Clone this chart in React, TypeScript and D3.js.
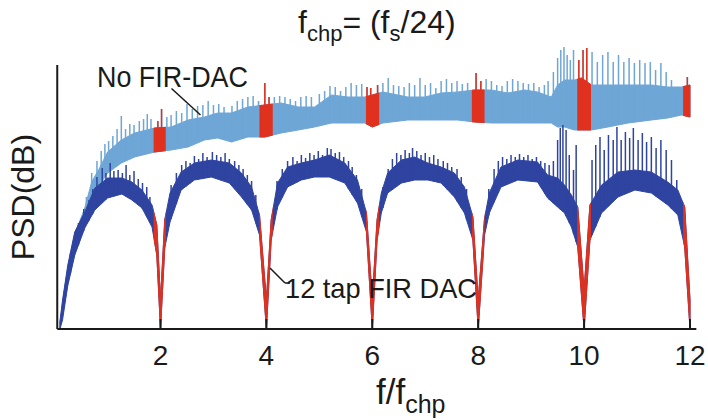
import React from "react";
import * as d3 from "d3";

// ---- data (PSD in dB vs f/fchp) ----
const FIR_F = [0.1, 0.15, 0.25, 0.38, 0.57, 0.76, 1.0, 1.27, 1.46, 1.65, 1.84, 1.93, 2.0, 2.08, 2.18, 2.39, 2.64, 2.96, 3.3, 3.53, 3.72, 3.87, 4.0, 4.09, 4.21, 4.4, 4.66, 4.91, 5.19, 5.48, 5.72, 5.89, 6.0, 6.09, 6.17, 6.29, 6.55, 6.8, 7.05, 7.3, 7.55, 7.74, 7.9, 8.0, 8.12, 8.21, 8.43, 8.75, 9.12, 9.31, 9.5, 9.63, 9.76, 9.88, 10.0, 10.11, 10.33, 10.64, 10.96, 11.27, 11.58, 11.77, 11.9, 12.0];
const FIR_LO = [-150, -145.5, -128, -113, -99.5, -90.5, -84.5, -82.5, -85.5, -89.5, -99, -113, -150, -109.5, -96.5, -80.5, -75.5, -74, -77, -84, -90.5, -103, -150, -105.5, -89, -79, -75.5, -74, -74, -77, -87, -101.5, -150, -105.5, -92, -82, -77, -75.5, -75.5, -77, -84, -92, -105.5, -150, -103, -92, -79, -75.5, -76.5, -84.5, -89, -92, -99, -109, -150, -105.5, -92, -84, -80.5, -82, -88, -93, -109, -150];
const FIR_HI = [-146.5, -135.5, -118, -101.5, -91.5, -79.5, -74.5, -74.5, -76.5, -80.5, -88, -98, -135.5, -95.5, -82, -71.5, -67, -65.5, -67, -72, -79, -93, -135.5, -95.5, -77, -69, -67, -65.5, -63, -67, -75.5, -92, -135.5, -95.5, -82, -72, -65.5, -64, -67, -69, -72, -79, -94, -135.5, -94.5, -82, -69, -65.5, -66.5, -73, -74.5, -78, -83, -89, -130.5, -88, -78, -71.5, -70.5, -71.5, -76.5, -80.5, -89, -135.5];
const FIR_SPIKE_F = [0.3, 0.45, 0.55, 0.65, 0.72, 0.8, 0.9, 0.97, 1.05, 1.12, 1.2, 1.28, 1.35, 1.42, 1.5, 1.58, 1.66, 1.74, 1.8,
  2.2, 2.3, 2.4, 2.48, 2.56, 2.64, 2.72, 2.8, 2.88, 2.98, 3.06, 3.14, 3.22, 3.3, 3.4, 3.48, 3.56, 3.64, 3.72, 3.8,
  4.2, 4.3, 4.4, 4.5, 4.58, 4.66, 4.74, 4.82, 4.9, 4.98, 5.06, 5.15, 5.22, 5.3, 5.38, 5.46, 5.55, 5.62, 5.7, 5.8,
  6.2, 6.3, 6.38, 6.46, 6.54, 6.62, 6.7, 6.76, 6.84, 6.92, 7.0, 7.08, 7.16, 7.24, 7.34, 7.42, 7.5, 7.6, 7.68, 7.78,
  8.2, 8.3, 8.38, 8.46, 8.54, 8.62, 8.7, 8.78, 8.86, 8.94, 9.02, 9.1, 9.18, 9.26, 9.34, 9.42, 9.5, 9.55, 9.6, 9.66, 9.72, 9.8, 9.85,
  10.15, 10.22, 10.3, 10.38, 10.46, 10.55, 10.62, 10.7, 10.78, 10.86, 10.93, 11.02, 11.1, 11.18, 11.27, 11.36, 11.45, 11.55, 11.65, 11.75];
const FIR_SPIKE_DB = [-112, -97, -90, -85.5, -80, -74, -69.5, -72, -67, -71, -70.5, -72, -68, -73, -71, -75, -77, -79, -84,
  -78, -72, -68, -66, -67, -63.5, -65, -62, -64, -61.5, -63, -64, -62, -65, -66, -68, -70, -73, -76, -83,
  -76, -70, -66, -64, -66, -63, -64.5, -62, -63, -61, -63, -59.5, -60, -62, -61.5, -64, -66, -69, -73, -80,
  -79, -70, -65, -62, -63, -60.5, -62, -59.5, -61, -63, -62, -64, -63, -65, -66, -67, -69, -70, -74, -80,
  -80, -70, -66, -64, -65, -63, -64, -62.5, -64, -63, -65, -64, -66, -67, -68, -66, -55.5, -49.5, -48, -50.5, -63, -70.5, -58,
  -65.5, -58, -54, -60.5, -53, -55.5, -49, -55.5, -51.5, -54.5, -49.5, -55.5, -52, -56.5, -54, -59.5, -55.5, -60.5, -65.5, -75.5];

const NOFIR_F = [0.1, 0.25, 0.38, 0.57, 0.7, 0.85, 1.0, 1.26, 1.51, 1.89, 2.2, 2.52, 2.83, 3.08, 3.34, 3.65, 3.97, 4.28, 4.6, 4.91, 5.23, 5.54, 5.86, 6.0, 6.2, 6.67, 6.99, 7.3, 7.61, 7.93, 8.25, 8.56, 8.88, 9.12, 9.38, 9.5, 9.63, 9.82, 9.95, 10.14, 10.45, 10.83, 11.27, 11.58, 11.84, 12.0];
const NOFIR_LO = [-150, -128, -113, -98.5, -85.5, -78, -72, -67, -64, -61.5, -60.5, -59, -55.5, -54.5, -56.5, -54, -54, -52, -50.5, -49, -47, -47, -47, -49, -47, -45.5, -45.5, -45.5, -45.5, -46.5, -47, -47, -47, -47, -47, -49, -49, -50.5, -50.5, -50.5, -49, -47, -45.5, -44.5, -43, -44];
const NOFIR_HI = [-146.5, -118.5, -102.5, -89.5, -76.5, -69.5, -61.5, -55.5, -52, -49.5, -49, -45.5, -44, -42, -42, -39, -38, -37, -39, -39, -33, -34, -34, -33, -31.5, -34, -34, -32, -31.5, -30.5, -30.5, -32, -30.5, -31.5, -34, -28, -25.5, -25.5, -24.5, -28, -28, -28, -28, -29, -29, -28];
const NOFIR_SPIKE_F = [0.6, 0.7, 0.8, 0.88, 0.95, 1.02, 1.1, 1.18, 1.26, 1.34, 1.42, 1.5, 1.6, 1.68, 1.75, 1.82, 1.95, 2.02, 2.12, 2.2, 2.3, 2.4, 2.5, 2.6, 2.7, 2.8, 2.9, 3.0, 3.1, 3.2, 3.35, 3.45, 3.55, 3.65, 3.75, 3.85, 3.97,
  4.05, 4.15, 4.25, 4.35, 4.45, 4.55, 4.65, 4.75, 4.85, 5.0, 5.1, 5.2, 5.3, 5.4, 5.5, 5.6, 5.7, 5.8, 5.9, 5.97, 6.1, 6.2, 6.3, 6.4, 6.5, 6.6, 6.7, 6.8, 6.9, 7.0, 7.1, 7.2, 7.3, 7.4, 7.5, 7.6, 7.7, 7.8, 7.96,
  8.05, 8.15, 8.25, 8.35, 8.45, 8.55, 8.65, 8.75, 8.85, 8.95, 9.05, 9.15, 9.25, 9.32, 9.42, 9.5, 9.56, 9.62, 9.68, 9.74, 9.8, 9.9, 9.98, 10.05, 10.15, 10.25, 10.35, 10.45, 10.55, 10.65, 10.75, 10.85, 10.95, 11.05, 11.15, 11.25, 11.35, 11.45, 11.55, 11.65, 11.75, 11.95];
const NOFIR_SPIKE_DB = [-84, -72, -66, -61, -57.5, -56, -53.5, -50, -43.5, -50, -47.5, -48, -46, -45, -42.5, -45, -46, -40, -44, -43, -41, -42, -37.5, -40, -38.5, -38, -36, -38, -37.5, -39, -38.5, -36, -35, -34, -33.5, -36, -27,
  -34, -34, -33.5, -34, -35, -36, -34, -33.5, -34, -32.5, -31, -28.5, -29, -31, -29, -27, -28, -27.5, -29, -29.5, -28, -27, -24.5, -28, -28.5, -29, -27, -28, -24.5, -28, -27, -29.5, -26, -25, -27, -26, -27.5, -27, -22,
  -26, -25, -26, -28, -28.5, -26, -25, -26, -27, -27.5, -27, -29, -28, -26, -21.5, -14.5, -10.5, -9, -13, -15.5, -10.5, -15.5, -10.5, -9.5, -11.5, -16.5, -13, -11.5, -16.5, -13, -16.5, -14.5, -17, -15.5, -17, -16.5, -20.5, -17, -21.5, -25.5, -33, -24];

// frequency bands highlighted in red (around multiples of f_chp)
const RED_BANDS: [number, number][] = [[1.87, 2.1], [3.87, 4.12], [5.88, 6.13], [7.88, 8.12], [9.87, 10.13], [11.87, 12.02]];
const X_TICKS = [2, 4, 6, 8, 10, 12];

const LIGHT = "#6ea6d6";
const DARK = "#2f44a0";
const RED = "#e0311f";
const INK = "#1a1a1a";
const FONT = "'Liberation Sans', Arial, Helvetica, sans-serif";

const W = 708, H = 420;
const x = d3.scaleLinear().domain([0, 12]).range([54.6, 690]);
const y = d3.scaleLinear().domain([-150, -18]).range([329, 65]);

function Series({ F, LO, HI, SF, SD, color }: { F: number[]; LO: number[]; HI: number[]; SF: number[]; SD: number[]; color: string }) {
  const area = d3.area<number>()
    .x((_, i) => x(F[i]))
    .y0((_, i) => y(LO[i]))
    .y1((_, i) => y(HI[i]))(F) as string;
  const base = d3.scaleLinear().domain(F).range(LO);
  return (
    <g>
      <path d={area} fill={color} stroke={color} strokeWidth={1} strokeLinejoin="round" />
      {SF.map((f, i) => (
        <line key={i} x1={x(f)} x2={x(f)} y1={y(base(f))} y2={y(SD[i])} stroke={color} strokeWidth={1.5} />
      ))}
    </g>
  );
}

export default function App() {
  return (
    <svg width={W} height={H} style={{ position: "absolute", left: 0, top: 0, background: "#fff" }} fontFamily={FONT}>
      <defs>
        <clipPath id="redclip">
          {RED_BANDS.map(([a, b], i) => (
            <rect key={i} x={x(a)} width={x(b) - x(a)} y={0} height={H} />
          ))}
        </clipPath>
      </defs>

      <Series F={NOFIR_F} LO={NOFIR_LO} HI={NOFIR_HI} SF={NOFIR_SPIKE_F} SD={NOFIR_SPIKE_DB} color={LIGHT} />
      <g clipPath="url(#redclip)">
        <Series F={NOFIR_F} LO={NOFIR_LO} HI={NOFIR_HI} SF={NOFIR_SPIKE_F} SD={NOFIR_SPIKE_DB} color={RED} />
      </g>
      <Series F={FIR_F} LO={FIR_LO} HI={FIR_HI} SF={FIR_SPIKE_F} SD={FIR_SPIKE_DB} color={DARK} />
      <g clipPath="url(#redclip)">
        <Series F={FIR_F} LO={FIR_LO} HI={FIR_HI} SF={FIR_SPIKE_F} SD={FIR_SPIKE_DB} color={RED} />
      </g>

      {/* axes */}
      <line x1={x(0.05)} x2={x(0.05)} y1={y(-18)} y2={y(-150)} stroke={INK} strokeWidth={2} />
      <line x1={x(0.05)} x2={x(12.12)} y1={y(-150)} y2={y(-150)} stroke={INK} strokeWidth={2} />
      {X_TICKS.map((t) => (
        <g key={t}>
          <line x1={x(t)} x2={x(t)} y1={y(-150)} y2={y(-150) - 10} stroke={INK} strokeWidth={2} />
          <text x={x(t)} y={365} textAnchor="middle" fontSize={28} fill={INK}>{t}</text>
        </g>
      ))}

      {/* labels */}
      <text x={298} y={33} fontSize={32} fill={INK}>
        f<tspan fontSize={22} dy={8}>chp</tspan><tspan dy={-8}>= (f</tspan><tspan fontSize={22} dy={8}>s</tspan><tspan dy={-8}>/24)</tspan>
      </text>
      <text x={376} y={404} fontSize={35} fill={INK}>
        f/f<tspan fontSize={25} dy={9}>chp</tspan>
      </text>
      <text transform="translate(34,197) rotate(-90)" textAnchor="middle" fontSize={32} fill={INK}>PSD(dB)</text>

      <text x={97} y={87} fontSize={29} fill={INK} textLength={151} lengthAdjust="spacingAndGlyphs">No FIR-DAC</text>
      <line x1={171.5} y1={88.5} x2={200.5} y2={115} stroke={INK} strokeWidth={1.5} />
      <text x={285} y={298} fontSize={28} fill={INK} textLength={192} lengthAdjust="spacingAndGlyphs">12 tap FIR DAC</text>
      <line x1={270} y1={268} x2={285} y2={283} stroke={INK} strokeWidth={1.5} />
      <line x1={285} y1={283} x2={290} y2={283} stroke={INK} strokeWidth={1.5} />
    </svg>
  );
}
